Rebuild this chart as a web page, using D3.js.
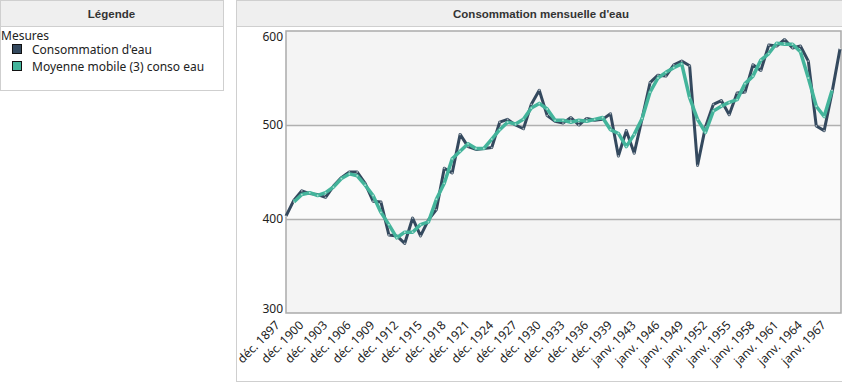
<!DOCTYPE html>
<html>
<head>
<meta charset="utf-8">
<script src="https://cdn.jsdelivr.net/npm/d3@7"></script>
<style>
body { margin: 0; background: #fff; font-family: "Noto Sans", sans-serif; }
</style>
</head>
<body>
<svg id="chart" width="842" height="385"></svg>
<script>
// Consommation mensuelle d'eau - line chart with 3-period moving average

var periods = [
  "déc. 1897","déc. 1898","déc. 1899","déc. 1900","déc. 1901","déc. 1902","déc. 1903","déc. 1904",
  "déc. 1905","déc. 1906","déc. 1907","déc. 1908","déc. 1909","déc. 1910","déc. 1911","déc. 1912",
  "déc. 1913","déc. 1914","déc. 1915","déc. 1916","déc. 1917","déc. 1918","déc. 1919","déc. 1920",
  "déc. 1921","déc. 1922","déc. 1923","déc. 1924","déc. 1925","déc. 1926","déc. 1927","déc. 1928",
  "déc. 1929","déc. 1930","déc. 1931","déc. 1932","déc. 1933","déc. 1934","déc. 1935","déc. 1936",
  "déc. 1937","déc. 1938","déc. 1939","déc. 1940","déc. 1941","janv. 1943","janv. 1944","janv. 1945",
  "janv. 1946","janv. 1947","janv. 1948","janv. 1949","janv. 1950","janv. 1951","janv. 1952","janv. 1953",
  "janv. 1954","janv. 1955","janv. 1956","janv. 1957","janv. 1958","janv. 1959","janv. 1960","janv. 1961",
  "janv. 1962","janv. 1963","janv. 1964","janv. 1965","janv. 1966","janv. 1967","janv. 1968"
];

var conso = [
  403,420,430,427,426,423,435,444,450,450,438,419,418,383,382,374,
  401,382,399,410,454,449,490,477,474,475,476,503,506,500,496,522,
  537,510,504,502,508,500,507,505,506,512,467,494,470,507,545,553,
  552,564,568,563,457,498,522,526,511,534,535,564,558,585,584,591,
  582,584,568,499,494,535,581
];

// moving average (3); first and last periods have none
var moyenne = [
  null,418,426,428,425,428,434,443,448,446,436,425,407,394,380,386,
  386,394,397,421,438,464,472,480,475,475,485,495,503,501,506,518,
  523,517,505,505,503,505,504,506,508,495,491,477,490,507,535,550,
  556,561,565,529,506,492,515,520,524,527,544,552,569,576,587,586,
  586,578,550,520,509,537,null
];

var yTicks = [300, 400, 500, 600];
var xTickStep = 3;

var seriesNames = ["Consommation d'eau", "Moyenne mobile (3) conso eau"];
var seriesColors = ["#34495e", "#43b49b"];

var W = 842, H = 385;
var plot = { left: 286, right: 840, top: 31, bottom: 313 };

var svg = d3.select("#chart");

// ---- panels
function panel(x, y, w, h, title){
  var g = svg.append("g");
  g.append("rect").attr("x", x + 0.5).attr("y", y + 0.5).attr("width", w).attr("height", h)
    .attr("fill", "#fff").attr("stroke", "#cfcfcf");
  g.append("rect").attr("x", x + 1).attr("y", y + 1).attr("width", w - 1).attr("height", 25)
    .attr("fill", "#efefef");
  g.append("line").attr("x1", x).attr("x2", x + w).attr("y1", y + 26.5).attr("y2", y + 26.5)
    .attr("stroke", "#cfcfcf");
  g.append("text").attr("x", x + w / 2).attr("y", y + 17.5)
    .attr("text-anchor", "middle")
    .style("font-family", "'Liberation Sans', sans-serif")
    .style("font-weight", "bold").style("font-size", "11.5px").attr("fill", "#333")
    .text(title);
  return g;
}

var legend = panel(0, 0, 223, 90, "Légende");
legend.append("text").attr("x", 1).attr("y", 40).style("font-size", "12px").attr("fill", "#222")
  .text("Mesures");
seriesNames.forEach(function(name, i){
  var yy = 50 + i * 17;
  legend.append("rect").attr("x", 12.5).attr("y", yy - 5.5).attr("width", 9).attr("height", 9)
    .attr("fill", seriesColors[i]).attr("stroke", "#111");
  legend.append("text").attr("x", 32).attr("y", yy + 4).style("font-size", "12px").attr("fill", "#222")
    .text(name);
});

panel(236, 0, 610, 381, "Consommation mensuelle d'eau");

// ---- scales
var x = d3.scalePoint().domain(periods).range([plot.left, plot.right]);
var y = d3.scaleLinear().domain([300, 600]).range([plot.bottom, plot.top]);

// bands
var bands = d3.pairs(yTicks);
svg.append("g").selectAll("rect").data(bands).join("rect")
  .attr("x", plot.left).attr("width", plot.right - plot.left + 1)
  .attr("y", function(d){ return y(d[1]); })
  .attr("height", function(d){ return y(d[0]) - y(d[1]); })
  .attr("fill", function(d, i){ return i % 2 ? "#fafafa" : "#f4f4f4"; });

// grid
svg.append("g").selectAll("line").data(yTicks.slice(1, -1)).join("line")
  .attr("x1", plot.left).attr("x2", plot.right + 1)
  .attr("y1", function(d){ return Math.round(y(d)) + 0.5; })
  .attr("y2", function(d){ return Math.round(y(d)) + 0.5; })
  .attr("stroke", "#b0b0b0").attr("stroke-width", 1.5);

svg.append("rect").attr("x", plot.left).attr("y", plot.top)
  .attr("width", plot.right - plot.left + 1).attr("height", plot.bottom - plot.top)
  .attr("fill", "none").attr("stroke", "#aaa").attr("stroke-width", 1.5);

// y axis
var yAxis = svg.append("g").attr("transform", "translate(" + (plot.left - 3) + ",0)")
  .call(d3.axisLeft(y).tickValues(yTicks).tickSize(0).tickPadding(0));
yAxis.select(".domain").remove();
yAxis.selectAll(".tick").attr("transform", function(d){
  var p = Math.min(Math.max(y(d), plot.top + 6), plot.bottom - 4);
  return "translate(0," + p + ")";
});
yAxis.selectAll("text").style("font-family", "'Noto Sans', sans-serif")
  .style("font-size", "12px").attr("fill", "#222");

// x axis
var xAxis = svg.append("g").attr("transform", "translate(0," + plot.bottom + ")")
  .call(d3.axisBottom(x)
    .tickValues(periods.filter(function(d, i){ return i % xTickStep === 0; }))
    .tickSize(0));
xAxis.select(".domain").remove();
xAxis.selectAll("text")
  .style("font-family", "'Noto Sans', sans-serif").style("font-size", "12px").attr("fill", "#222")
  .attr("text-anchor", "end").attr("dy", null).attr("y", 0)
  .attr("transform", "translate(-6,13) rotate(-45)");

// ---- lines
var line = d3.line()
  .defined(function(d){ return d != null; })
  .x(function(d, i){ return x(periods[i]); })
  .y(function(d){ return y(d); });

[conso, moyenne].forEach(function(vals, k){
  svg.append("path").datum(vals)
    .attr("fill", "none").attr("stroke", seriesColors[k])
    .attr("stroke-width", k ? 3.5 : 3).attr("stroke-linejoin", "round")
    .attr("d", line);
  svg.append("g").selectAll("circle")
    .data(vals.map(function(v, i){ return [i, v]; }).filter(function(d){ return d[1] != null; }))
    .join("circle")
    .attr("cx", function(d){ return x(periods[d[0]]); })
    .attr("cy", function(d){ return y(d[1]); })
    .attr("r", 0.9).attr("fill", "rgba(255,255,255,0.55)");
});
</script>
</body>
</html>
